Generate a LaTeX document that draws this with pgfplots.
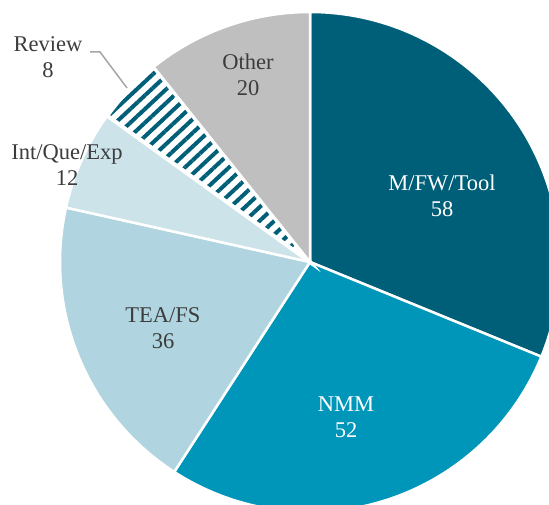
\documentclass[border=0pt]{standalone}
\usepackage{fontspec}
\setmainfont{Liberation Serif}
\usepackage{pgfplots}
\pgfplotsset{compat=1.18}
\usetikzlibrary{patterns.meta}
\definecolor{cA}{HTML}{005F78}
\definecolor{cB}{HTML}{0096B9}
\definecolor{cC}{HTML}{B0D5E0}
\definecolor{cD}{HTML}{CCE3EA}
\definecolor{cE}{HTML}{BFBFBF}
\definecolor{txt}{HTML}{3C3C3C}
\definecolor{lead}{HTML}{A6A6A6}
% slice: start (cumulative value), value, style ; total = 186
\newcommand\slice[3]{\path[#3] (axis cs:0,0) -- +({90-#1/186*360}:250pt) arc[start angle={90-#1/186*360}, end angle={90-(#1+#2)/186*360}, radius=250pt] -- cycle;}
\tikzset{lab/.style={align=center, font=\fontsize{22.5}{25.5}\selectfont}}
\begin{document}
\begin{tikzpicture}
\begin{axis}[hide axis, x=1pt, y=1pt, xmin=-310, xmax=239, ymin=-242, ymax=262, clip=true]
\slice{0}{58}{fill=cA, draw=white, line width=2.5pt}
\slice{58}{52}{fill=cB, draw=white, line width=2.5pt}
\slice{110}{36}{fill=cC, draw=white, line width=2.5pt}
\slice{146}{12}{fill=cD, draw=white, line width=2.5pt}
\slice{158}{8}{pattern={Lines[angle=43,distance=10pt,line width=4pt]}, pattern color=cA}
\slice{158}{8}{draw=white, line width=4pt}
\slice{166}{20}{fill=cE, draw=white, line width=2.5pt}
\node[lab, text=white] at (axis cs:132,66) {M/FW/Tool\\58};
\node[lab, text=white] at (axis cs:36,-155) {NMM\\52};
\node[lab, text=txt] at (axis cs:-147,-66) {TEA/FS\\36};
\node[lab, text=txt] at (axis cs:-243,97) {Int/Que/Exp\\12};
\node[lab, text=txt] at (axis cs:-62,187) {Other\\20};
\node[lab, text=txt] at (axis cs:-262,205) {Review\\8};
\draw[lead, line width=1.5pt] (axis cs:-220,210) -- (axis cs:-210,210) -- (axis cs:-183,174);
\end{axis}
\pgfresetboundingbox
\path (current axis.south west) rectangle (current axis.north east);
\end{tikzpicture}
\end{document}
